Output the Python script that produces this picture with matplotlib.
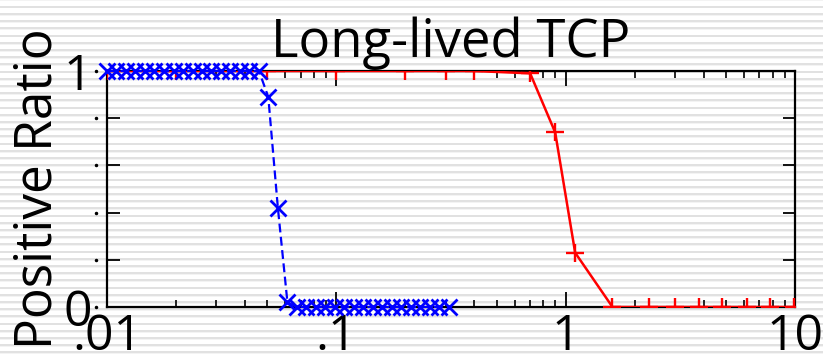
import numpy as np
import matplotlib
matplotlib.use("Agg")
import matplotlib.pyplot as plt
import matplotlib.transforms as mtransforms

plt.rcParams['font.family'] = ['Open Sans', 'DejaVu Sans']

title = "Long-lived TCP"
ylabel = "Positive Ratio"

red_x = [0.01, 0.02, 0.05, 0.1, 0.2, 0.3, 0.4, 0.7, 0.9, 1.1, 1.6, 2.3, 3.0, 3.8, 4.8, 6.2, 7.8, 9.9]
red_y = [1.0, 1.0, 1.0, 1.0, 1.0, 1.0, 1.0, 0.99, 0.74, 0.23, 0.0, 0.0, 0.0, 0.0, 0.0, 0.0, 0.0, 0.0]

blue_x = [0.0100, 0.0110, 0.0121, 0.0133, 0.0146, 0.0161, 0.0177, 0.0195, 0.0214,
          0.0236, 0.0259, 0.0285, 0.0314, 0.0345, 0.0380, 0.0418, 0.0460, 0.0505,
          0.0556, 0.0612, 0.0673, 0.0740, 0.0814, 0.0895, 0.0985, 0.1084, 0.1192,
          0.1311, 0.1442, 0.1586, 0.1745, 0.1919, 0.2111, 0.2323, 0.2555, 0.2810,
          0.3091]
blue_y = [1.0] * 17 + [0.89, 0.42, 0.02] + [0.0] * 17

xtick_vals = [0.01, 0.1, 1, 10]
xtick_labels = [".01", ".1", "1", "10"]
ytick_vals = [0, 0.2, 0.4, 0.6, 0.8, 1.0]
ytick_labels = ["0", "", "", "", "", "1"]

W, H = 823, 359
fig = plt.figure(figsize=(W / 100, H / 100), dpi=100)

# striped background
bg = fig.add_axes([0, 0, 1, 1], zorder=-10)
rows = np.arange(H)
period = 7.2
phase = (rows + 2.0) % period
col = np.where(phase < 2.0, 0.88, np.where(phase < 2.8, 0.95, 1.0))
img = np.repeat(col[:, None], W, axis=1)
bg.imshow(img, cmap='gray', vmin=0, vmax=1, aspect='auto', interpolation='nearest')
bg.set_axis_off()

ax = fig.add_axes([107 / W, 1 - 307 / H, (795 - 107) / W, (307 - 71) / H])
ax.patch.set_alpha(0)

ax.plot(red_x, red_y, color='#ff0000', lw=1.8, marker='+', markersize=13, mew=1.7, zorder=3)
ax.plot(blue_x, blue_y, color='#0000ff', lw=1.6, ls=(0, (4, 2)), marker='x', markersize=12, mew=2.0, zorder=4, clip_on=False)

ax.set_xscale('log')
ax.set_xlim(0.01, 10)
ax.set_ylim(0, 1)
ax.set_xticks(xtick_vals)
ax.set_xticklabels(xtick_labels)
ax.xaxis.set_minor_locator(matplotlib.ticker.LogLocator(base=10, subs=np.arange(2, 10)))
ax.xaxis.set_minor_formatter(matplotlib.ticker.NullFormatter())
ax.set_yticks(ytick_vals)
ax.set_yticklabels(ytick_labels)

ax.tick_params(axis='both', which='major', direction='in', top=True, right=True,
               length=9, width=1.3, labelsize=36, pad=2)
ax.tick_params(axis='x', which='major', length=11)
ax.tick_params(axis='x', which='minor', direction='in', top=True, length=5, width=1.2)
ax.tick_params(axis='y', which='major', pad=11)
ax.tick_params(axis='x', which='major', pad=4)
for s in ax.spines.values():
    s.set_linewidth(1.6)

# little dots beside the y ticks
trans = mtransforms.blended_transform_factory(ax.transAxes, ax.transData)
ax.plot([-0.016] * len(ytick_vals), ytick_vals, ls='none', marker='o', markersize=1.5,
        color='black', transform=trans, clip_on=False)

ax.set_title(title, fontsize=38, pad=10)
ax.set_ylabel(ylabel, fontsize=37, labelpad=0)

fig.savefig("out.png", dpi=100)
